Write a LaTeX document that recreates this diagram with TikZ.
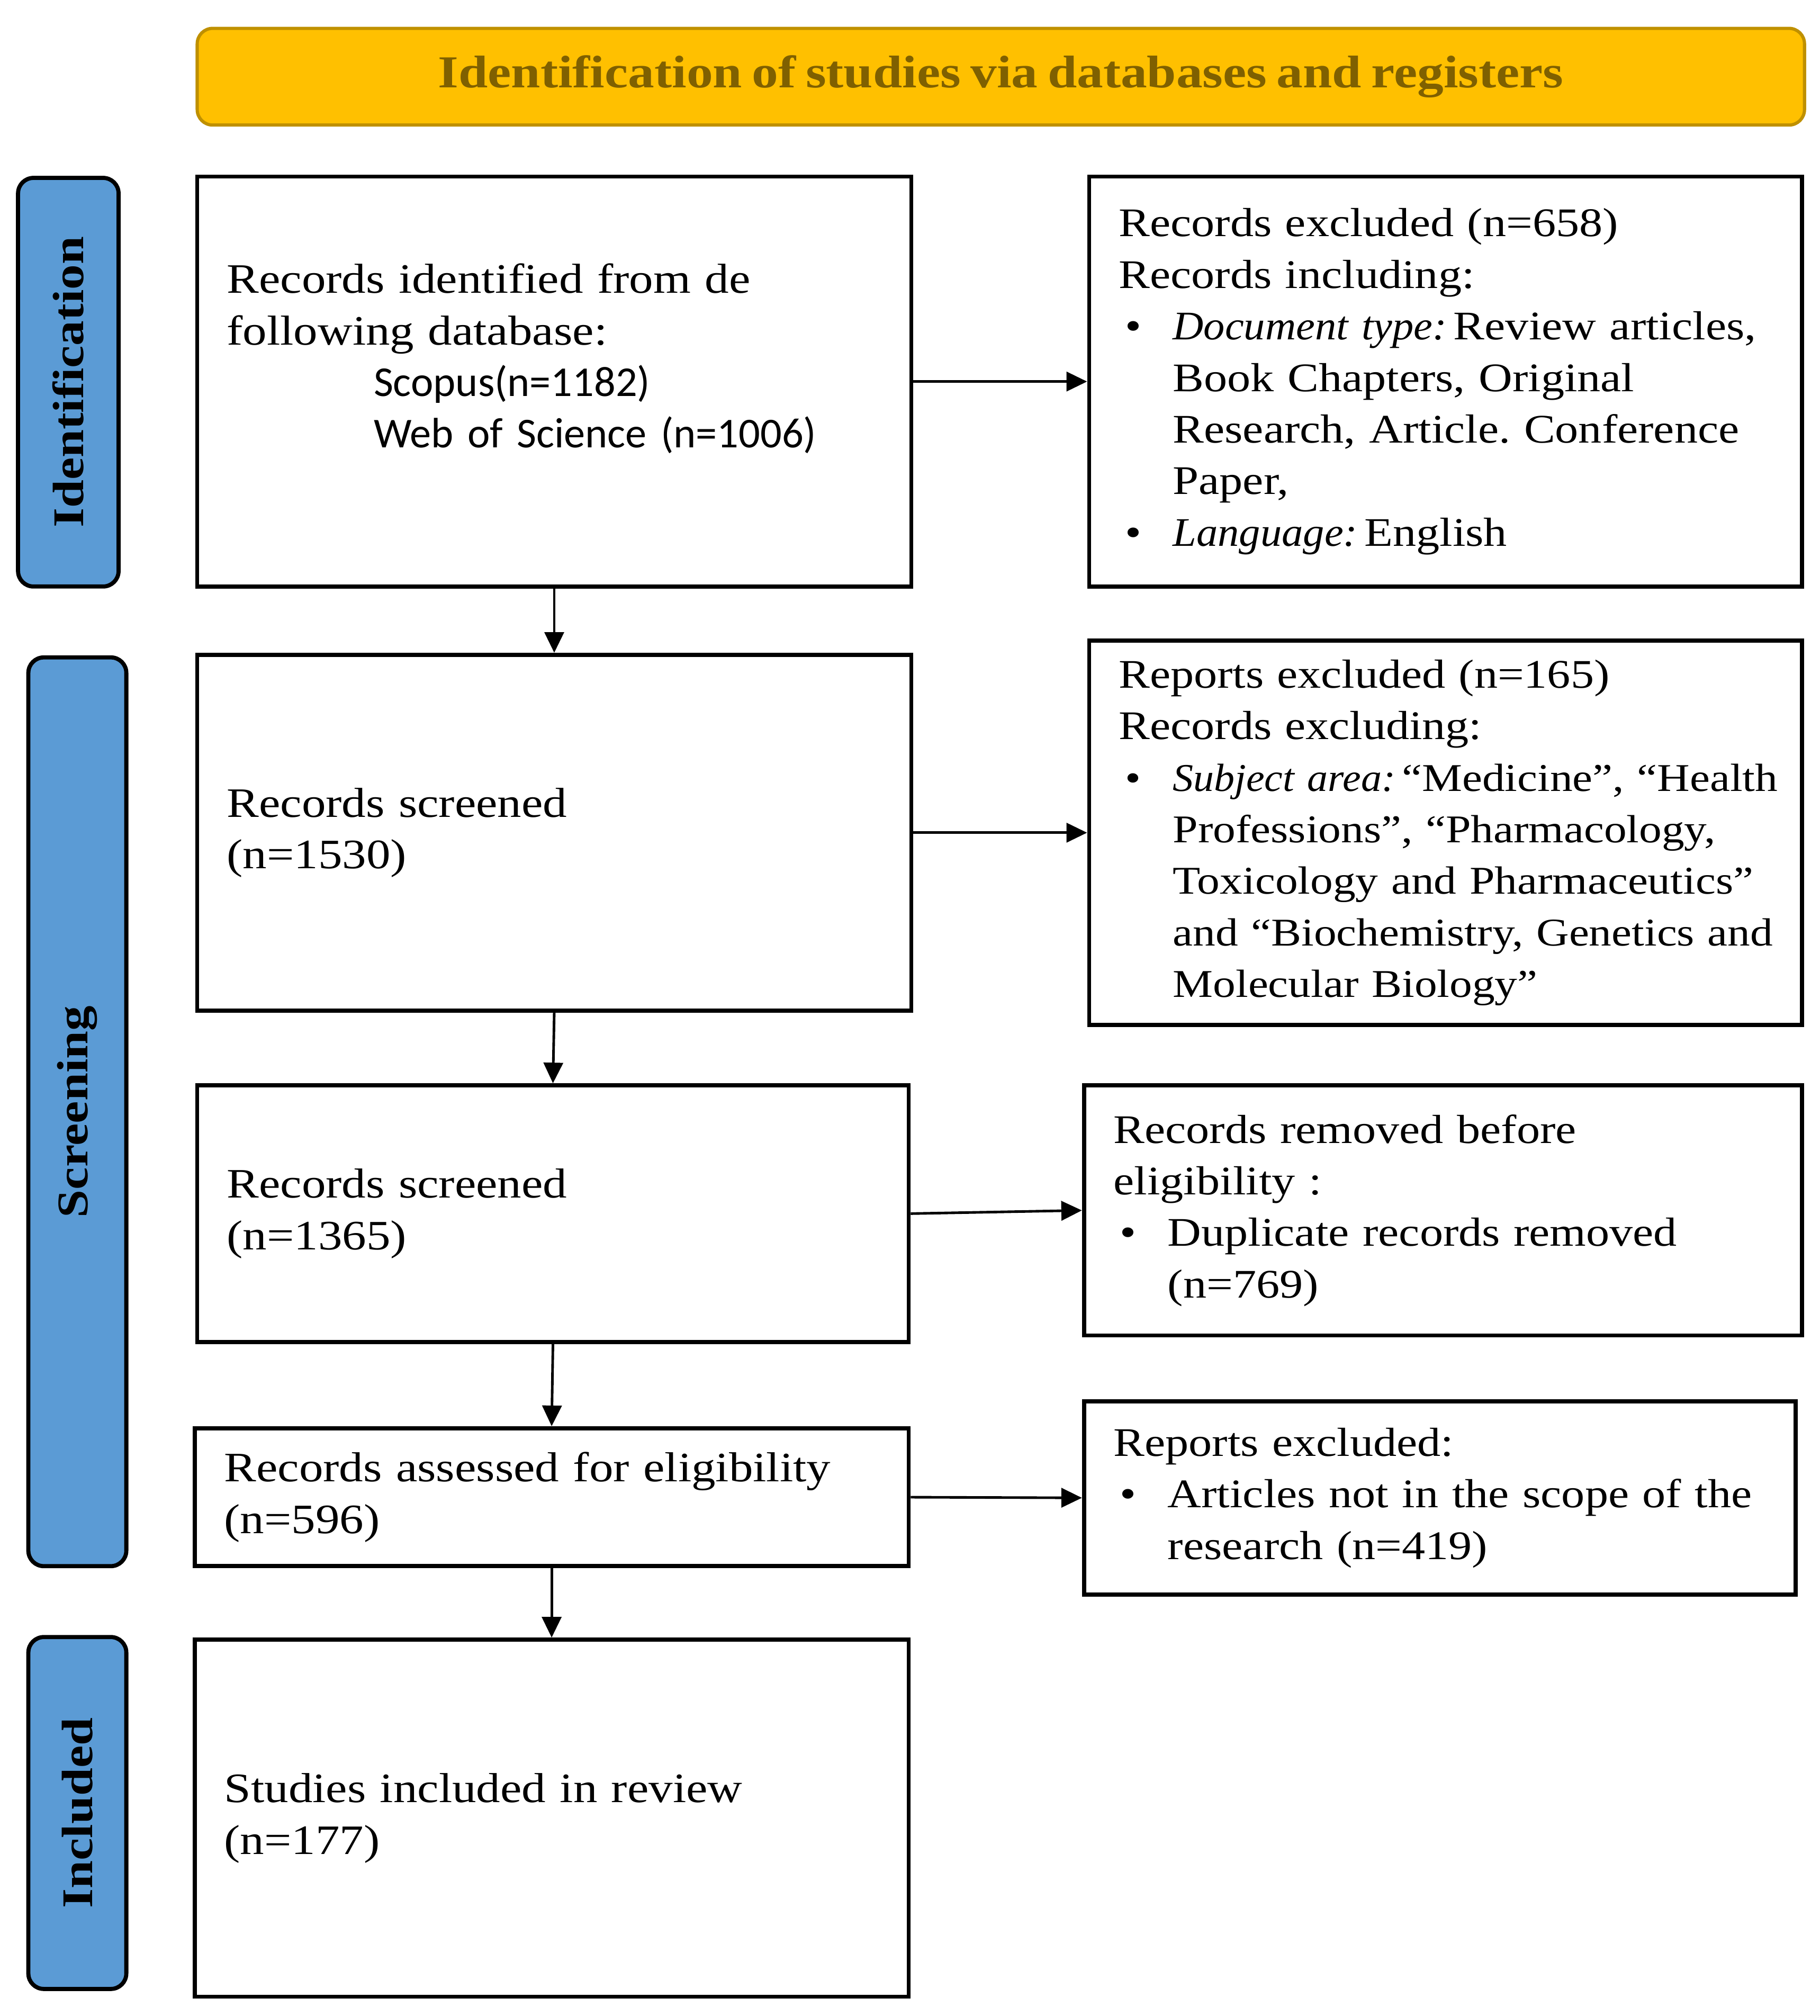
\documentclass[tikz,border=0pt]{standalone}
\usepackage{fontspec}
\setmainfont[FakeStretch=1.15,WordSpace=0.75,ItalicFeatures={FakeStretch=1.05}]{Liberation Serif}
\newfontfamily\sfc{Carlito}
\usetikzlibrary{arrows.meta}
\definecolor{goldfill}{HTML}{FFC000}
\definecolor{golddark}{HTML}{BF9000}
\definecolor{goldtext}{HTML}{7F6000}
\definecolor{phasecol}{HTML}{5B9BD5}
\newcommand{\bitem}{\makebox[42pt][l]{\hspace{5pt}\textbullet}}
\newcommand{\bind}{\hspace*{42pt}}
\newcommand{\tline}[1]{\mbox{#1}}
\frenchspacing
\begin{document}
\begin{tikzpicture}[x=1pt,y=-1pt,
  box/.style={draw=black,line width=3.2pt,fill=white,align=left,inner xsep=23pt,inner ysep=0pt,font=\fontsize{32.5}{40}\selectfont},
  rbox/.style={box,font=\fontsize{31.5}{40}\selectfont},
  phase/.style={draw=black,line width=3.2pt,fill=phasecol,rounded corners=12pt,rotate=90,inner sep=0pt,font=\fontsize{34}{40}\selectfont\bfseries},
  banner/.style={draw=golddark,line width=2.5pt,fill=goldfill,rounded corners=12pt,inner sep=0pt,text=goldtext,font=\fontsize{35.5}{40}\selectfont\bfseries},
  arr/.style={line width=2pt,-{Triangle[length=16pt,width=15pt]}}]
\useasboundingbox (0,0) rectangle (1412,1564);

\node[banner,minimum width=1247pt,minimum height=75pt] (ban) at (776.5,59.5) {Identification of studies via databases and registers};

\node[phase,minimum width=317pt,minimum height=78pt] (pid) at (53,296.5) {Identification};
\node[phase,minimum width=705pt,minimum height=76pt] (psc) at (60,862.5) {Screening};
\node[phase,minimum width=273pt,minimum height=76pt] (pin) at (60,1406.5) {Included};

\node[box,text width=508pt,minimum width=554pt,minimum height=318pt] (b1) at (430,296) {\tline{Records identified from de}\\ \tline{following database:}\\ \tline{\hspace*{114pt}{\sfc\fontsize{33}{40}\selectfont Scopus(n=1182)}}\\ \tline{\hspace*{114pt}{\sfc\fontsize{33}{40}\selectfont Web of Science (n=1006)}}\\ \mbox{}};

\node[rbox,text width=507pt,minimum width=553pt,minimum height=318pt] (r1) at (1121.5,296) {\tline{Records excluded (n=658)}\\ \tline{Records including:}\\ \tline{\bitem\textit{Document type:}\,Review articles,}\\ \tline{\bind Book Chapters, Original}\\ \tline{\bind Research, Article. Conference}\\ \tline{\bind Paper,}\\ \tline{\bitem\textit{Language:}\,English}};

\node[box,text width=508pt,minimum width=554pt,minimum height=276pt] (b2) at (430,646) {\tline{Records screened}\\ \tline{(n=1530)}};

\node[rbox,font=\fontsize{30.5}{40}\selectfont,text width=507pt,minimum width=553pt,minimum height=298pt] (r2) at (1121.5,646) {\tline{\fontsize{31.5}{40}\selectfont Reports excluded (n=165)}\\ \tline{\fontsize{31.5}{40}\selectfont Records excluding:}\\ \tline{\bitem\textit{Subject area:}\,“Medicine”, “Health}\\ \tline{\bind Professions”, “Pharmacology,}\\ \tline{\bind Toxicology and Pharmaceutics”}\\ \tline{\bind and “Biochemistry, Genetics and}\\ \tline{\bind Molecular Biology”}};

\node[box,text width=506pt,minimum width=552pt,minimum height=199pt] (b3) at (429,941.5) {\tline{Records screened}\\ \tline{(n=1365)}};

\node[rbox,text width=511pt,minimum width=557pt,minimum height=194pt] (r3) at (1119.5,939) {\tline{Records removed before}\\ \tline{eligibility :}\\ \tline{\bitem Duplicate records removed}\\ \tline{\bind (n=769)}};

\node[box,text width=508pt,minimum width=554pt,minimum height=107pt] (b4) at (428,1161.5) {\tline{Records assessed for eligibility}\\ \tline{(n=596)}};

\node[rbox,text width=506pt,minimum width=552pt,minimum height=150pt] (r4) at (1117,1162) {\tline{Reports excluded:}\\ \tline{\bitem Articles not in the scope of the}\\ \tline{\bind research (n=419)}};

\node[box,text width=508pt,minimum width=554pt,minimum height=277pt] (b5) at (428,1410.5) {\tline{Studies included in review}\\ \tline{(n=177)}};

\draw[arr] (b1.south) -- (b2.north);
\draw[arr] (b2.south) -- (b3.north);
\draw[arr] (b3.south) -- (b4.north);
\draw[arr] (b4.south) -- (b5.north);
\draw[arr] (b1.east) -- (r1.west);
\draw[arr] (b2.east) -- (r2.west);
\draw[arr] (b3.east) -- (r3.west);
\draw[arr] (b4.east) -- (r4.west);
\end{tikzpicture}
\end{document}
